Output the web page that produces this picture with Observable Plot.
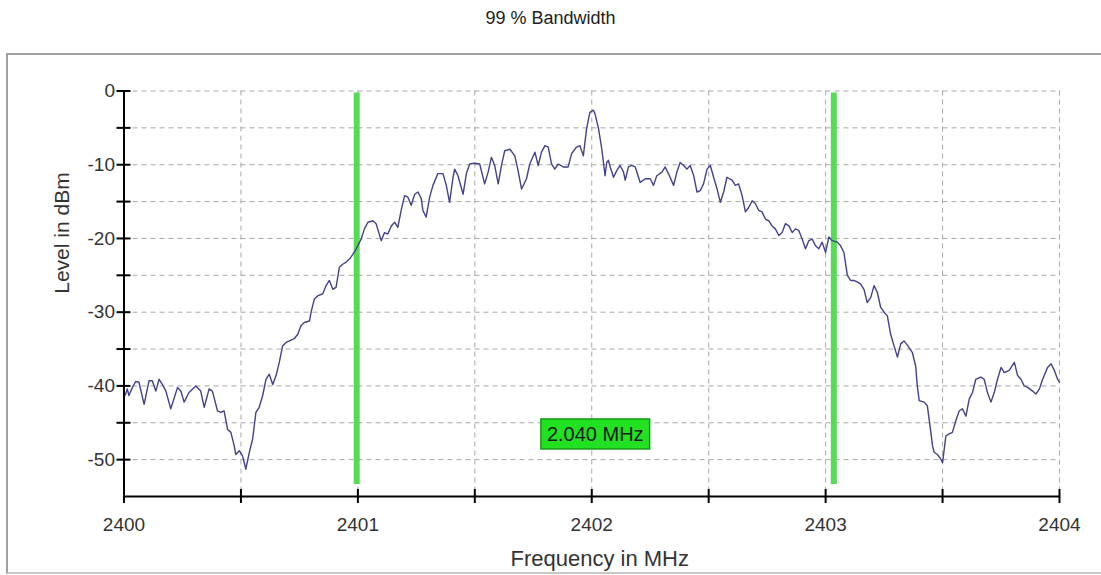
<!DOCTYPE html>
<html><head><meta charset="utf-8">
<script src="https://cdn.jsdelivr.net/npm/d3@7"></script>
<script src="https://cdn.jsdelivr.net/npm/@observablehq/plot@0.6"></script>
<style>
html,body{margin:0;padding:0;background:#fff;}
#wrap{position:relative;width:1101px;height:575px;overflow:hidden;font-family:"Liberation Sans",Arial,sans-serif;}
#title{position:absolute;left:0;top:0;width:1101px;height:36px;line-height:36px;text-align:center;font-size:18px;color:#222;}
#frame{position:absolute;left:6px;top:53px;width:1110px;height:517px;border-top:2px solid #a0a0a0;border-left:2px solid #a0a0a0;border-bottom:2px solid #c8c8c8;}
#chart{position:absolute;left:0;top:36px;}
</style></head><body>
<div id="wrap"><div id="title"></div><div id="frame"></div><div id="chart"></div></div>
<script>
const chartTitle = "99 % Bandwidth";
const xLabel = "Frequency in MHz";
const yLabel = "Level in dBm";

const frequency = [
  2400.000,2400.007,2400.014,2400.021,2400.036,2400.050,2400.064,2400.086,2400.107,2400.121,
  2400.136,2400.150,2400.164,2400.179,2400.200,2400.229,2400.243,2400.257,2400.278,2400.307,
  2400.328,2400.343,2400.364,2400.378,2400.400,2400.414,2400.428,2400.443,2400.457,2400.471,
  2400.478,2400.493,2400.507,2400.521,2400.536,2400.550,2400.564,2400.578,2400.593,2400.607,
  2400.621,2400.636,2400.650,2400.664,2400.678,2400.693,2400.707,2400.728,2400.743,2400.757,
  2400.771,2400.793,2400.800,2400.814,2400.828,2400.850,2400.864,2400.878,2400.893,2400.907,
  2400.921,2400.935,2400.950,2400.964,2400.978,2400.993,2401.014,2401.028,2401.043,2401.064,
  2401.078,2401.100,2401.114,2401.128,2401.143,2401.157,2401.171,2401.185,2401.200,2401.214,
  2401.228,2401.243,2401.257,2401.271,2401.278,2401.292,2401.307,2401.321,2401.342,2401.364,
  2401.378,2401.392,2401.407,2401.414,2401.428,2401.450,2401.464,2401.478,2401.500,2401.521,
  2401.542,2401.557,2401.571,2401.585,2401.600,2401.614,2401.628,2401.650,2401.671,2401.685,
  2401.700,2401.721,2401.735,2401.757,2401.771,2401.785,2401.800,2401.814,2401.828,2401.842,
  2401.857,2401.878,2401.899,2401.914,2401.935,2401.949,2401.964,2401.978,2401.992,2402.007,
  2402.014,2402.029,2402.043,2402.057,2402.064,2402.071,2402.079,2402.093,2402.107,2402.121,
  2402.136,2402.143,2402.157,2402.171,2402.186,2402.200,2402.207,2402.229,2402.250,2402.264,
  2402.278,2402.300,2402.314,2402.328,2402.350,2402.364,2402.378,2402.393,2402.407,2402.421,
  2402.436,2402.450,2402.464,2402.478,2402.493,2402.507,2402.521,2402.536,2402.550,2402.564,
  2402.578,2402.600,2402.614,2402.628,2402.643,2402.657,2402.671,2402.686,2402.700,2402.714,
  2402.728,2402.743,2402.757,2402.771,2402.785,2402.800,2402.814,2402.828,2402.843,2402.857,
  2402.871,2402.885,2402.900,2402.914,2402.928,2402.943,2402.957,2402.971,2402.985,2403.000,
  2403.014,2403.028,2403.050,2403.064,2403.078,2403.093,2403.107,2403.121,2403.135,2403.150,
  2403.164,2403.178,2403.193,2403.207,2403.221,2403.235,2403.250,2403.264,2403.278,2403.292,
  2403.307,2403.321,2403.335,2403.350,2403.371,2403.385,2403.392,2403.400,2403.421,2403.435,
  2403.450,2403.457,2403.464,2403.478,2403.492,2403.500,2403.514,2403.528,2403.542,2403.557,
  2403.571,2403.585,2403.600,2403.614,2403.628,2403.642,2403.664,2403.678,2403.692,2403.707,
  2403.721,2403.735,2403.750,2403.764,2403.785,2403.807,2403.821,2403.835,2403.849,2403.864,
  2403.885,2403.899,2403.914,2403.928,2403.949,2403.964,2403.978,2403.992,2404.000
];
const level = [
  -41.5,-41.1,-40.4,-41.3,-40.2,-39.4,-39.5,-42.5,-39.3,-39.3,
  -40.7,-39.1,-39.8,-40.7,-43.1,-40.2,-40.7,-42.2,-40.9,-40.0,
  -40.7,-42.9,-40.4,-40.7,-43.4,-43.6,-43.4,-45.9,-46.3,-48.1,
  -49.3,-48.8,-49.5,-51.3,-49.0,-47.2,-43.6,-42.9,-41.3,-39.1,
  -38.4,-39.8,-38.6,-36.8,-34.6,-34.1,-33.9,-33.6,-33.0,-31.8,
  -31.4,-31.2,-30.0,-28.2,-27.8,-27.5,-26.4,-25.7,-26.9,-26.6,
  -23.9,-23.5,-23.2,-22.8,-22.2,-21.4,-20.1,-18.7,-17.8,-17.6,
  -18.0,-20.3,-19.2,-19.4,-18.3,-17.8,-18.5,-16.2,-14.2,-14.4,
  -15.5,-14.0,-13.7,-14.6,-16.2,-17.1,-14.4,-12.8,-11.2,-11.2,
  -12.8,-15.1,-11.7,-10.6,-11.5,-14.0,-11.2,-9.9,-9.8,-9.9,
  -12.6,-11.0,-9.0,-10.1,-12.6,-10.1,-8.1,-7.9,-8.8,-10.8,
  -13.3,-11.9,-9.9,-8.3,-10.1,-8.3,-7.4,-7.6,-9.9,-10.6,
  -9.9,-10.3,-10.3,-8.5,-7.6,-7.4,-8.8,-5.1,-2.9,-2.6,
  -3.1,-5.1,-7.9,-11.5,-9.7,-9.4,-10.3,-11.7,-10.8,-10.1,
  -11.0,-12.1,-10.3,-10.1,-10.3,-11.7,-12.4,-11.9,-11.9,-12.8,
  -11.5,-11.0,-10.3,-11.2,-12.8,-11.0,-9.7,-10.1,-10.6,-10.1,
  -11.5,-13.7,-13.5,-12.6,-10.6,-10.1,-11.7,-13.3,-15.1,-13.7,
  -11.7,-12.1,-12.8,-12.6,-14.2,-16.4,-15.8,-14.9,-15.3,-16.2,
  -16.4,-17.4,-17.6,-18.3,-18.7,-19.6,-19.2,-18.0,-18.3,-19.2,
  -18.7,-18.9,-20.1,-21.4,-20.3,-20.1,-21.0,-21.4,-20.5,-21.9,
  -19.8,-20.3,-20.5,-21.0,-21.9,-25.0,-25.7,-25.7,-25.9,-26.2,
  -26.9,-28.7,-28.0,-26.4,-27.3,-29.3,-30.0,-30.5,-33.0,-34.5,
  -36.1,-34.3,-33.9,-34.5,-35.5,-37.3,-40.0,-42.0,-42.2,-42.7,
  -46.3,-48.1,-49.0,-49.3,-49.9,-50.4,-46.8,-46.5,-46.3,-44.7,
  -43.4,-43.1,-44.1,-41.8,-40.9,-39.1,-38.8,-39.1,-40.9,-42.2,
  -40.9,-39.1,-37.5,-38.2,-37.9,-36.8,-38.6,-39.1,-40.0,-40.2,
  -40.7,-41.1,-40.4,-39.1,-37.5,-37.0,-37.9,-39.1,-39.5
];

const markerFrequencies = [2400.995, 2403.035];
const labelLevel = -46.6;

const xTickValues = [2400, 2400.5, 2401, 2401.5, 2402, 2402.5, 2403, 2403.5, 2404];
const xTickLabels = [2400, 2401, 2402, 2403, 2404];
const xGridValues = [2400.5, 2401, 2401.5, 2402, 2402.5, 2403, 2403.5, 2404];
const yTickValues = [0, -5, -10, -15, -20, -25, -30, -35, -40, -45, -50];
const yTickLabels = [0, -10, -20, -30, -40, -50];
const xDomain = [2400, 2404];
const yDomain = [-55, 0];

const trace = frequency.map((f, i) => ({f, v: level[i]}));
const bandwidth = markerFrequencies[1] - markerFrequencies[0];
const bwLabel = [{f: (markerFrequencies[0] + markerFrequencies[1]) / 2, v: labelLevel, t: bandwidth.toFixed(3) + " MHz"}];

document.getElementById("title").textContent = chartTitle;

const chart = Plot.plot({
  width: 1101,
  height: 539,
  marginTop: 54.5,
  marginBottom: 79,
  marginLeft: 123.5,
  marginRight: 42,
  x: {domain: xDomain},
  y: {domain: yDomain},
  style: {fontFamily: "'Liberation Sans', Arial, sans-serif", fontSize: "19px", color: "#333", background: "transparent", overflow: "visible"},
  marks: [
    Plot.gridY(yTickValues, {stroke: "#a8a8a8", strokeOpacity: 1, strokeDasharray: "5,4"}),
    Plot.gridX(xGridValues, {stroke: "#a8a8a8", strokeOpacity: 1, strokeDasharray: "5,4"}),
    Plot.ruleX(markerFrequencies, {stroke: "#55dc55", strokeWidth: 6, insetTop: 2, insetBottom: 12}),
    Plot.line(trace, {x: "f", y: "v", stroke: "#42428a", strokeWidth: 1.4}),
    Plot.ruleX([xDomain[0]], {stroke: "#000", strokeWidth: 2}),
    Plot.ruleY([yDomain[0]], {stroke: "#000", strokeWidth: 2}),
    Plot.axisY(yTickValues, {tickSize: 14, dx: 7, fill: "none", stroke: "#000", strokeWidth: 2, label: null}),
    Plot.axisX(xTickValues, {tickSize: 14, dy: -7, fill: "none", stroke: "#000", strokeWidth: 2, label: null}),
    Plot.axisY(yTickLabels, {tickSize: 0, tickPadding: 9, tickFormat: d => String(d), fill: "#333", label: null}),
    Plot.axisX(xTickLabels, {tickSize: 0, tickPadding: 21, tickFormat: d => String(d), fill: "#333", label: null}),
    Plot.text([xLabel], {frameAnchor: "bottom", text: d => d, dx: 8, dy: 62, lineAnchor: "middle", fontSize: 22, fill: "#333"}),
    Plot.text([yLabel], {frameAnchor: "left", text: d => d, rotate: -90, dx: -61.5, lineAnchor: "middle", fontSize: 21, fill: "#333"}),
    Plot.text(bwLabel, {x: "f", y: "v", text: "t", fontSize: 20, fill: "#1a1a1a"})
  ]
});
document.getElementById("chart").appendChild(chart);

// green background box behind the bandwidth label
const lab = Array.from(chart.querySelectorAll("text")).find(t => t.textContent === bwLabel[0].t);
if (lab) {
  const bb = lab.getBBox();
  const r = document.createElementNS("http://www.w3.org/2000/svg", "rect");
  r.setAttribute("x", bb.x - 6);
  r.setAttribute("y", bb.y - 4);
  r.setAttribute("width", bb.width + 12);
  r.setAttribute("height", bb.height + 8);
  r.setAttribute("fill", "#22e022");
  r.setAttribute("stroke", "#169a16");
  r.setAttribute("stroke-width", "1.5");
  const tr = lab.getAttribute("transform");
  if (tr) r.setAttribute("transform", tr);
  lab.parentNode.insertBefore(r, lab);
}
</script>
</body></html>
